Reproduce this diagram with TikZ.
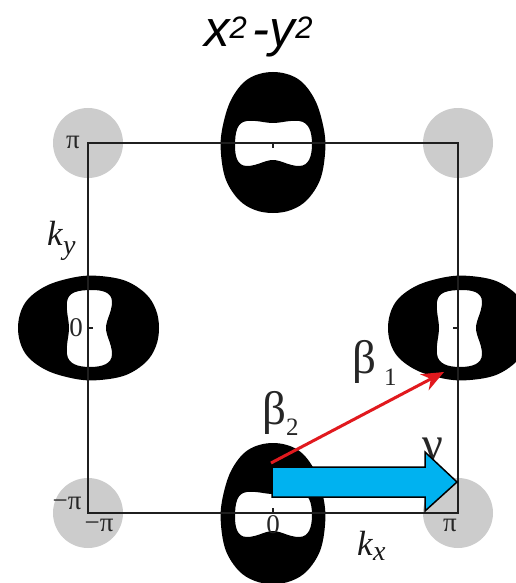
\documentclass[tikz,border=0pt]{standalone}
\usepackage{fontspec}
\setsansfont{Liberation Sans}
\newfontfamily\labfont{Liberation Serif}
\usetikzlibrary{arrows.meta}

\definecolor{vecred}{RGB}{225,25,30}
\definecolor{blockblue}{RGB}{0,178,240}

\tikzset{
  zone/.style={fill=black!20},
  pocket/.style={fill=black, even odd rule},
  frame/.style={line width=2.8pt, draw=black!88},
  tickmark/.style={line width=1.6pt, draw=black!88},
  ticklabel/.style={inner sep=0pt, text=black!85, font={\labfont\fontsize{27}{27}\selectfont}},
  axislabel/.style={inner sep=0pt, anchor=base west, text=black!90, font={\labfont\fontsize{35}{35}\selectfont\itshape}},
  axissub/.style={inner sep=0pt, anchor=base west, text=black!90, font={\labfont\fontsize{28}{28}\selectfont\itshape}},
  bandlabel/.style={inner sep=0pt, anchor=base west, text=black!85, font={\labfont\fontsize{47}{47}\selectfont}},
  bandsub/.style={inner sep=0pt, anchor=base west, text=black!85, font={\labfont\fontsize{25}{25}\selectfont}},
  vecarrow/.style={draw=vecred, line width=3pt, -{Stealth[length=22pt,width=18pt]}},
  blockarrow/.style={fill=blockblue, draw=black, line width=1.5pt, line join=miter},
}

% Fermi pocket elongated along y (narrow end up), with a dog-bone hole
\newcommand\pocketV[1]{%
  \fill[pocket, shift={#1}]
    plot[smooth cycle, tension=0.6] coordinates {
      (0,-70) (25,-63) (42,-42) (51,-12) (52,12) (47,38) (34,58) (18,68)
      (0,71) (-18,68) (-34,58) (-47,38) (-52,12) (-51,-12) (-42,-42) (-25,-63)}
    (-38,4) .. controls (-38,-10) and (-36,-20) .. (-26,-21)
      .. controls (-16,-22) and (-8,-19) .. (0,-19)
      .. controls (8,-19) and (16,-22) .. (26,-21)
      .. controls (36,-20) and (39,-10) .. (39,2)
      .. controls (39,14) and (36,24) .. (26,24)
      .. controls (16,24) and (8,18) .. (0,18)
      .. controls (-8,18) and (-16,24) .. (-26,24)
      .. controls (-36,24) and (-38,14) .. (-38,4) -- cycle;}

% the same pocket turned a quarter turn (elongated along x)
\newcommand\pocketH[1]{%
  \fill[pocket, shift={#1}]
    plot[smooth cycle, tension=0.6] coordinates {
      (-70,0) (-63,25) (-42,42) (-12,51) (12,52) (38,47) (58,34) (68,18)
      (71,0) (68,-18) (58,-34) (38,-47) (12,-52) (-12,-51) (-42,-42) (-63,-25)}
    (4,-38) .. controls (-10,-38) and (-20,-36) .. (-21,-26)
      .. controls (-22,-16) and (-19,-8) .. (-19,0)
      .. controls (-19,8) and (-22,16) .. (-21,26)
      .. controls (-20,36) and (-10,39) .. (2,39)
      .. controls (14,39) and (24,36) .. (24,26)
      .. controls (24,16) and (18,8) .. (18,0)
      .. controls (18,-8) and (24,-16) .. (24,-26)
      .. controls (24,-36) and (14,-38) .. (4,-38) -- cycle;}

\begin{document}
\begin{tikzpicture}[x=1pt, y=-1pt]
  \useasboundingbox (0,0) rectangle (516,583);
  \fill[white] (0,0) rectangle (516,583);

  % title
  \node[inner sep=0pt, anchor=base west] (title) at (204,47)
    {\sffamily\itshape\fontsize{51}{51}\selectfont
     x\raisebox{8pt}{\fontsize{31}{31}\selectfont 2}\kern6pt-y\raisebox{8pt}{\fontsize{31}{31}\selectfont 2}};

  % zone corners
  \coordinate (BL) at (88,513);
  \coordinate (BR) at (458,513);
  \coordinate (TR) at (458,143);
  \coordinate (TL) at (88,143);
  \fill[zone] (TL) circle[radius=35];
  \fill[zone] (TR) circle[radius=35];
  \fill[zone] (BL) circle[radius=35];
  \fill[zone] (BR) circle[radius=35];

  % Fermi pockets
  \pocketV{(273,142)}
  \pocketV{(273,513)}
  \pocketH{(88,328)}
  \pocketH{(458,328)}

  % Brillouin zone frame and ticks
  \draw[frame] (BL) -- (BR) -- (TR) -- (TL) -- cycle;
  \draw[tickmark] (273,143) -- (273,148);
  \draw[tickmark] (273,513) -- (273,508);
  \draw[tickmark] (88,328) -- (93,328);
  \draw[tickmark] (458,328) -- (453,328);

  % axis labels
  \node[ticklabel] (piy) at (73,142) {π};
  \node[ticklabel] (zeroy) at (76,328) {0};
  \node[ticklabel] (mpiy) at (67,503) {−π};
  \node[ticklabel] (mpix) at (99,525) {−π};
  \node[ticklabel] (zerox) at (273,525) {0};
  \node[ticklabel] (pix) at (450,525) {π};
  \node[axislabel] (ky) at (47,245) {k};
  \node[axissub] (kysub) at (ky.base east) [yshift=-9pt] {y};
  \node[axislabel] (kx) at (357,555) {k};
  \node[axissub] (kxsub) at (kx.base east) [yshift=-5pt] {x};

  % nesting vectors
  \node[bandlabel] (b1) at (352,373) {β};
  \node[bandsub] (b1sub) at (384,385) {1};
  \node[bandlabel] (b2) at (262,424) {β};
  \node[bandsub] (b2sub) at (286,435) {2};
  \node[bandlabel] (g) at (422,459) {γ};

  \coordinate (vecstart) at (271,463);
  \coordinate (vectip) at (444,372);
  \draw[vecarrow] (vecstart) -- (vectip);

  \fill[blockarrow] (272,467) -- (425,467) -- (425,452) -- (457,482)
    -- (425,511) -- (425,497) -- (272,497) -- cycle;
\end{tikzpicture}
\end{document}
